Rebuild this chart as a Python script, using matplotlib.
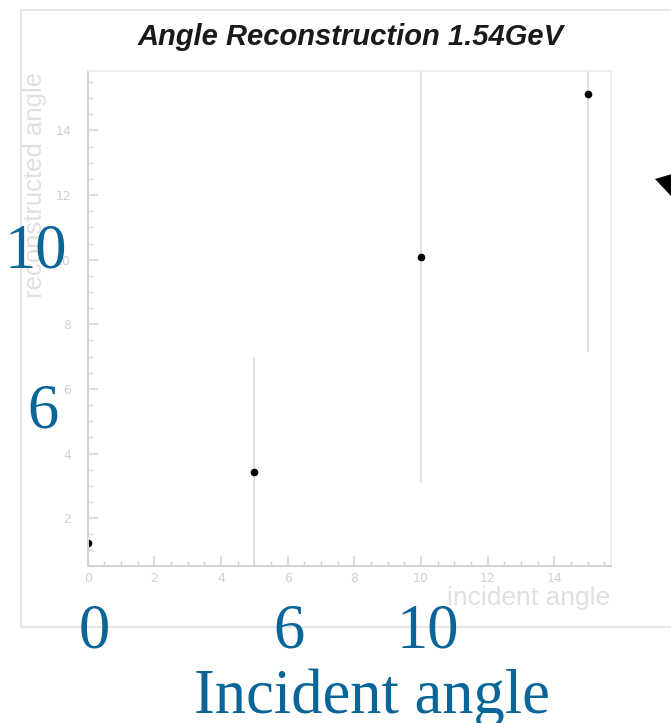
import matplotlib
matplotlib.use("Agg")
import matplotlib.pyplot as plt
from matplotlib.patches import Polygon, Rectangle
from matplotlib.ticker import MultipleLocator

W, H = 671, 723

# data
incident = [0, 5, 10, 15]
reconstructed = [1.24, 3.42, 10.08, 15.13]
rec_err = [0.0, 3.56, 7.0, 8.0]

x_ticks = [0, 2, 4, 6, 8, 10, 12, 14]
y_ticks = [2, 4, 6, 8, 10, 12, 14]

# big overlay annotations (label, pixel x, pixel baseline)
left_labels = [("10", 36, 267), ("6", 43, 427)]
bottom_labels = [("0", 94, 647), ("6", 289, 647), ("10", 428, 647)]

BLUE = "#0a6699"
FAINT = "#d4d4d4"


def fx(x):
    return x / W


def fy(y):
    return 1 - y / H


fig = plt.figure(figsize=(W / 100, H / 100), dpi=100)
fig.patch.set_facecolor("white")

# outer ROOT canvas border
fig.patches.append(Rectangle((fx(21), fy(627)), fx(700) - fx(21), fy(10) - fy(627),
                             transform=fig.transFigure, fill=False,
                             edgecolor="#e6e6e6", linewidth=1.5))

left, right, top, bottom = 87.7, 611, 70.7, 566
ax = fig.add_axes([fx(left), fy(bottom), fx(right) - fx(left), fy(top) - fy(bottom)])

ax.errorbar(incident, reconstructed, yerr=rec_err, fmt="o", color="black",
            markersize=4.5, ecolor="#d9d9d9", elinewidth=1.2, capsize=0, clip_on=True)

ax.set_xlim(0, 15.7)
ax.set_ylim(0.52, 15.85)
ax.set_xticks(x_ticks)
ax.set_yticks(y_ticks)
ax.xaxis.set_minor_locator(MultipleLocator(0.5))
ax.yaxis.set_minor_locator(MultipleLocator(0.5))
ax.tick_params(which="both", direction="in", colors=FAINT, top=False, right=False)
ax.tick_params(which="major", length=7, width=1.1)
ax.tick_params(which="minor", length=3.5, width=1.0)
ax.tick_params(axis="x", labelsize=9, pad=4, labelcolor="#d0d0d0")
ax.tick_params(axis="y", labelsize=9, pad=12, labelcolor="#d0d0d0")

for side in ("left", "bottom"):
    ax.spines[side].set_color(FAINT)
    ax.spines[side].set_linewidth(1.5)
for side in ("top", "right"):
    ax.spines[side].set_color("#ececec")
    ax.spines[side].set_linewidth(1.2)

fig.text(fx(351), fy(45), "Angle Reconstruction 1.54GeV", ha="center", va="baseline",
         fontsize=21, fontweight="bold", fontstyle="italic",
         family="Liberation Sans", color="#1a1a1a")

fig.text(fx(35), fy(72), "reconstructed angle", rotation=90, ha="center", va="top",
         fontsize=18.5, family="Liberation Sans", color="#e0e0e0")
fig.text(fx(610), fy(598), "incident angle", ha="right", va="center",
         fontsize=19, family="Liberation Sans", color="#e0e0e0")

for text, px, py in left_labels + bottom_labels:
    fig.text(fx(px), fy(py), text, ha="center", va="baseline",
             fontsize=45, family="Liberation Serif", color=BLUE)
fig.text(fx(372), fy(713), "Incident angle", ha="center", va="baseline",
         fontsize=45, family="Liberation Serif", color=BLUE)

# arrow head cut off at the right edge
fig.patches.append(Polygon([(fx(655), fy(179)), (fx(672), fy(174)), (fx(672), fy(197))],
                           closed=True, transform=fig.transFigure,
                           facecolor="black", edgecolor="none"))

fig.savefig("out.png", dpi=100)
plt.close(fig)
